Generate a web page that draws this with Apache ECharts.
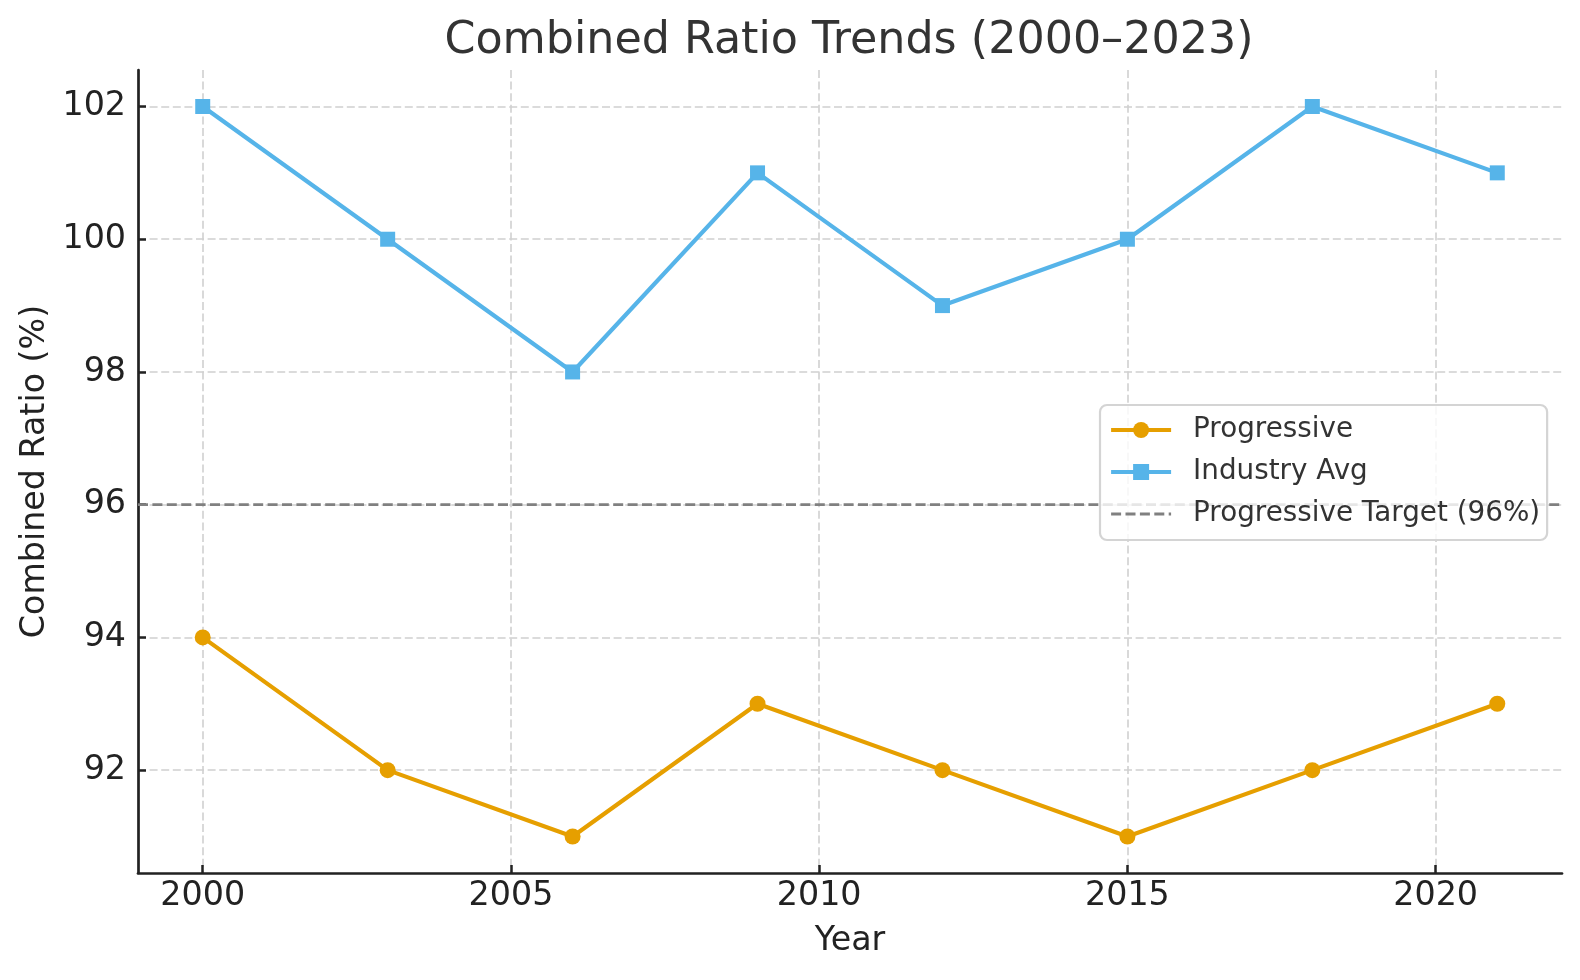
<!DOCTYPE html>
<html>
<head>
<meta charset="utf-8">
<script src="https://cdn.jsdelivr.net/npm/echarts@6/dist/echarts.min.js"></script>
<style>html,body{margin:0;padding:0;background:#fff;overflow:hidden;width:100%;height:100%}#c{width:100vw;height:100vh}</style>
</head>
<body>
<div id="c"></div>
<script>
const years = [2000, 2003, 2006, 2009, 2012, 2015, 2018, 2021];
const progressive = [94, 92, 91, 93, 92, 91, 92, 93];
const industryAvg = [102, 100, 98, 101, 99, 100, 102, 101];
const targetValue = 96;
const xTicks = [2000, 2005, 2010, 2015, 2020];
const yTicks = [92, 94, 96, 98, 100, 102];
const xRange = [1998.95, 2022.05];
const yRange = [90.45, 102.55];

const font = 'DejaVu Sans';
const chart = echarts.init(document.getElementById('c'), null, {renderer: 'canvas'});
const pair = (xs, ys) => xs.map((x, i) => [x, ys[i]]);
const gridLine = {show: true, lineStyle: {color: '#d0d0d0', type: [8, 3.6], width: 1.6}};

chart.setOption({
  animation: false,
  backgroundColor: '#fff',
  title: {
    text: 'Combined Ratio Trends (2000–2023)',
    left: 844, textAlign: 'center', top: 14,
    textStyle: {fontFamily: font, fontSize: 44.4, fontWeight: 'normal', color: '#333'}
  },
  grid: {left: 138, right: 18, top: 70, bottom: 107, containLabel: false},
  legend: {
    orient: 'vertical', left: 1100, top: 405,
    padding: [10.5, 7, 11.5, 9],
    itemWidth: 60, itemHeight: 20, itemGap: 13,
    backgroundColor: 'rgba(255,255,255,0.8)',
    borderColor: '#d4d4d4', borderWidth: 2.2, borderRadius: 7,
    lineStyle: {width: 4.2},
    textStyle: {fontFamily: font, fontSize: 27.8, color: '#333', lineHeight: 29, padding: [0, 0, 0, 17]},
    data: [
      'Progressive',
      'Industry Avg',
      {name: 'Progressive Target (96%)', itemStyle: {color: 'rgba(0,0,0,0)', borderWidth: 0}, lineStyle: {width: 2.8}}
    ]
  },
  xAxis: {
    type: 'value', min: xRange[0], max: xRange[1],
    name: 'Year', nameLocation: 'middle', nameGap: 52,
    nameTextStyle: {fontFamily: font, fontSize: 33.3, color: '#222'},
    axisLine: {show: true, lineStyle: {color: '#222', width: 2.7}},
    axisTick: {show: true, inside: true, length: 8, lineStyle: {color: '#222', width: 2.5}, customValues: xTicks},
    axisLabel: {fontFamily: font, fontSize: 33.3, color: '#222', margin: 7, customValues: xTicks, formatter: v => String(v)},
    splitLine: gridLine
  },
  yAxis: {
    type: 'value', min: yRange[0], max: yRange[1],
    name: 'Combined Ratio (%)', nameLocation: 'middle', nameGap: 86,
    nameTextStyle: {fontFamily: font, fontSize: 33.3, color: '#222'},
    axisLine: {show: true, lineStyle: {color: '#222', width: 2.7}},
    axisTick: {show: true, inside: true, length: 8, lineStyle: {color: '#222', width: 2.5}, customValues: yTicks},
    axisLabel: {fontFamily: font, fontSize: 33.3, color: '#222', margin: 12, customValues: yTicks, formatter: v => String(v)},
    splitLine: gridLine
  },
  series: [
    {
      name: 'Progressive', type: 'line', data: pair(years, progressive),
      symbol: 'circle', symbolSize: 16,
      itemStyle: {color: '#E69F00'},
      lineStyle: {color: '#E69F00', width: 4.2}, z: 3
    },
    {
      name: 'Industry Avg', type: 'line', data: pair(years, industryAvg),
      symbol: 'rect', symbolSize: 15,
      itemStyle: {color: '#56B4E9'},
      lineStyle: {color: '#56B4E9', width: 4.2}, z: 3
    },
    {
      name: 'Progressive Target (96%)', type: 'line',
      data: [[xRange[0], targetValue], [xRange[1], targetValue]],
      symbol: 'none', itemStyle: {color: '#808080'},
      lineStyle: {color: '#808080', width: 2.8, type: [10, 4.4]}, z: 2
    }
  ]
});
window.addEventListener('resize', () => chart.resize());
</script>
</body>
</html>
